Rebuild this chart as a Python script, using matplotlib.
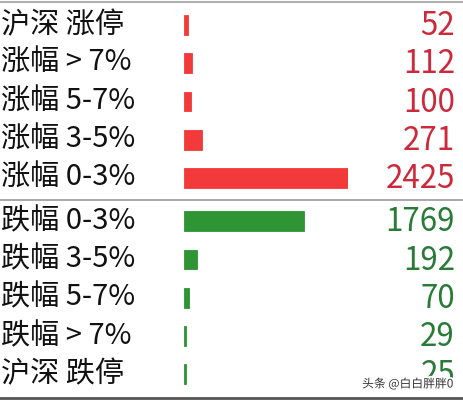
import matplotlib
matplotlib.use("Agg")
import matplotlib.pyplot as plt
import matplotlib.patheffects as pe

plt.rcParams['font.family'] = ['Noto Sans CJK SC', 'DejaVu Sans']

# data
labels = ['沪深 涨停', '涨幅 > 7%', '涨幅 5-7%', '涨幅 3-5%', '涨幅 0-3%',
          '跌幅 0-3%', '跌幅 3-5%', '跌幅 5-7%', '跌幅 > 7%', '沪深 跌停']
counts = [52, 112, 100, 271, 2425, 1769, 192, 70, 29, 25]
is_up = [True] * 5 + [False] * 5

bar_up, bar_down = '#f23a3a', '#2e9434'
txt_up, txt_down = '#cc2a3a', '#2a7a38'

W, H = 464, 400
fig = plt.figure(figsize=(W / 100, H / 100), dpi=100)
fig.patch.set_facecolor('white')

# axes from bar origin to the end of the longest bar
ax = fig.add_axes([184 / W, 0, 164 / W, 1])
ax.set_xlim(0, max(counts))
ax.set_ylim(9.804, -0.654)
ax.axis('off')

pos = [i + (0.13 if i >= 5 else 0) for i in range(len(counts))]
colors = [bar_up if u else bar_down for u in is_up]
ax.barh(pos, counts, height=0.52, color=colors, edgecolor=colors, linewidth=0.6)

# separator between up and down groups
ax.axhline((pos[4] + pos[5]) / 2, xmin=-184 / 164, xmax=280 / 164,
           color='#9a9a9a', lw=1.2, clip_on=False)

for p, lab, c, u in zip(pos, labels, counts, is_up):
    ax.text(-183 / 164 * max(counts), p, lab, ha='left', va='center',
            fontsize=21, color='#111111')
    ax.text(271 / 164 * max(counts), p + 0.03, str(c), ha='right', va='center',
            fontsize=22.5, color=txt_up if u else txt_down)

# frame lines at top and bottom
fig.add_artist(plt.Line2D([0, 1], [1 - 2 / H, 1 - 2 / H], color='#b0b0b0', lw=1.5))
fig.add_artist(plt.Line2D([0, 1], [2 / H, 2 / H], color='#555555', lw=2))

fig.text(453 / W, 1 - 384 / H, '头条 @白白胖胖0', ha='right', va='center',
         fontsize=8.5, color='#333333', zorder=5,
         path_effects=[pe.withStroke(linewidth=2.5, foreground='white')])

fig.savefig('out.png', dpi=100)
